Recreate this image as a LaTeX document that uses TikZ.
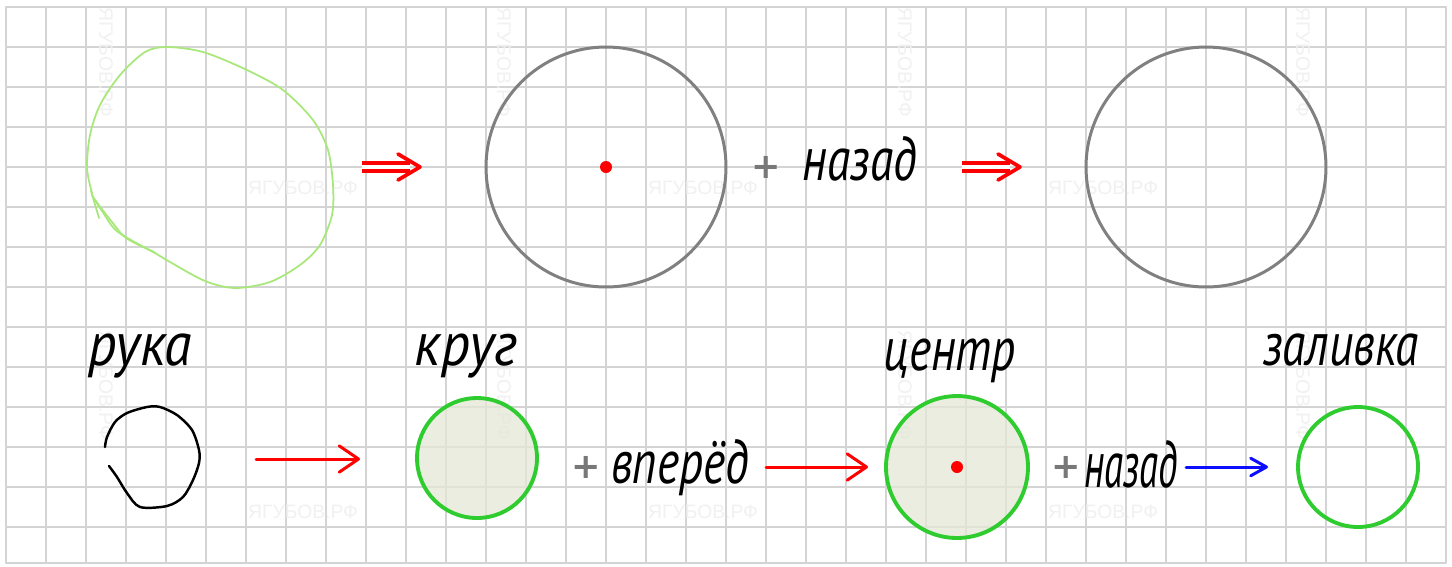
\documentclass[tikz,border=0pt]{standalone}
\usepackage{fontspec}
\setmainfont{PT Sans}
\newfontfamily\markfont{Liberation Sans}
\newfontfamily\plusfont{DejaVu Sans}
\usetikzlibrary{arrows.meta}
\definecolor{gridC}{rgb}{0.83,0.83,0.83}
\definecolor{ringC}{rgb}{0.50,0.50,0.50}
\definecolor{greenC}{rgb}{0.18,0.80,0.18}
\definecolor{blobC}{rgb}{0.66,0.91,0.48}
\definecolor{fillC}{rgb}{0.89,0.91,0.84}
\definecolor{markC}{rgb}{0.945,0.945,0.945}
\definecolor{plusC}{rgb}{0.47,0.47,0.47}
\definecolor{blueC}{rgb}{0.05,0.05,1.00}

\begin{document}
\begin{tikzpicture}[x=0.02cm, y=-0.02cm, line cap=round, line join=round,
  hand/.style={font=\fontsize{27}{28}\selectfont\itshape, yscale=1.3, inner sep=0pt, anchor=base},
  wmark/.style={font=\markfont\fontsize{11}{11}\selectfont, text=markC, inner sep=0pt},
  plus/.style={font=\plusfont\bfseries\fontsize{20}{20}\selectfont, text=plusC, inner sep=0pt},
  ring/.style={circle, draw=ringC, line width=1.7pt, inner sep=0pt, minimum size=4.8cm},
  greenring/.style={circle, draw=greenC, line width=2.2pt, inner sep=0pt, minimum size=2.4cm},
  dot/.style={circle, fill=red, inner sep=0pt, minimum size=0.24cm},
  dblshaft/.style={red, line width=2.1pt, double=white, double distance=2.3pt, line cap=butt},
  chev/.style={red, line width=2.1pt},
  redarrow/.style={red, line width=1.7pt, -{Straight Barb[round, length=11pt, width=15pt]}},
  bluearrow/.style={blueC, line width=1.7pt, -{Straight Barb[round, length=9pt, width=10pt]}}]
\useasboundingbox (0,0) rectangle (1452,566);
% 方格纸
\fill[white] (0,0) rectangle (1452,566);
\foreach \k in {0,...,36}
  \draw[gridC, line width=0.8pt] (6+40*\k,7) -- (6+40*\k,563);
\foreach \k in {0,...,13}
  \draw[gridC, line width=0.8pt] (6,7+40*\k) -- (1446,7+40*\k);
\draw[gridC, line width=0.8pt] (6,563) -- (1446,563);
% 水印
\foreach \x in {106,504,905,1303} {
  \node[wmark, rotate=-90] (wt\x) at (\x,62) {ЯГУБОВ.РФ};
  \node[wmark, rotate=-90] (wb\x) at (\x,385) {ЯГУБОВ.РФ};
}
\foreach \x in {303,703,1103} {
  \node[wmark] (ht\x) at (\x,188) {ЯГУБОВ.РФ};
  \node[wmark] (hb\x) at (\x,512) {ЯГУБОВ.РФ};
}
% 上排
\draw[blobC, line width=1pt] plot[smooth] coordinates {(92,193) (87,168) (90,135) (100,105) (120,75) (145,52) (167,47) (203,52) (247,70) (283,90) (313,120) (328,150) (333,185) (332,215) (320,245) (300,265) (270,282) (235,288) (205,281) (170,262) (152,251)};
\draw[blobC, line width=1pt] (91,191) -- (99,218);
\draw[blobC, line width=1pt] plot[smooth] coordinates {(92,195) (104,214) (118,232) (155,253)};
\draw[blobC, line width=1pt] plot[smooth] coordinates {(95,200) (112,222) (126,238) (152,251)};
\coordinate (t1s) at (362,167);
\coordinate (t1e) at (420,167);
\draw[dblshaft] (t1s) -- ([xshift=-0.2cm]t1e);
\draw[chev] (t1e) ++(-22,-13) -- (t1e) -- ++(-22,13);
\node[ring] (g1) at (606,167) {};
\node[dot] (g1c) at (g1.center) {};
\node[plus] (p1) at (766,167) {+};
\node[hand] (nz1) at (860,180) {назад};
\coordinate (t2s) at (962,167);
\coordinate (t2e) at (1020,167);
\draw[dblshaft] (t2s) -- ([xshift=-0.2cm]t2e);
\draw[chev] (t2e) ++(-22,-13) -- (t2e) -- ++(-22,13);
\node[ring] (g2) at (1206,167) {};
% 下排
\node[hand, xscale=1.18] (ruka) at (140,365) {рука};
\node[hand, xscale=1.2] (krug) at (466,365) {круг};
\node[hand] (centr) at (950,370) {центр};
\node[hand] (zaliv) at (1341,365) {заливка};
\draw[black, line width=1.4pt] plot[smooth] coordinates {(105,447) (107,437) (115,422) (127,413) (147,407) (160,407) (177,415) (192,430) (199,450) (199,463) (193,480) (183,497) (167,506) (140,507) (127,493) (117,477) (109,466)};
\coordinate (b1s) at (256,459);
\coordinate (b1e) at (360,459);
\draw[redarrow] (b1s) -- (b1e);
\node[greenring, fill=fillC, fill opacity=0.75] (k1) at (477,458) {};
\node[plus] (p2) at (586,467) {+};
\node[hand] (vp) at (680,483) {вперёд};
\coordinate (b2s) at (766,467);
\coordinate (b2e) at (868,467);
\draw[redarrow] (b2s) -- (b2e);
\node[greenring, minimum size=2.84cm, fill=fillC, fill opacity=0.75] (k2) at (957,467) {};
\node[dot] (k2c) at (k2.center) {};
\node[plus] (p3) at (1066,467) {+};
\node[hand, scale=0.82, yscale=1.3] (nz2) at (1131,487) {назад};
\coordinate (b3s) at (1186,467);
\coordinate (b3e) at (1268,467);
\draw[bluearrow] (b3s) -- (b3e);
\node[greenring] (k3) at (1358,467) {};
\end{tikzpicture}
\end{document}
